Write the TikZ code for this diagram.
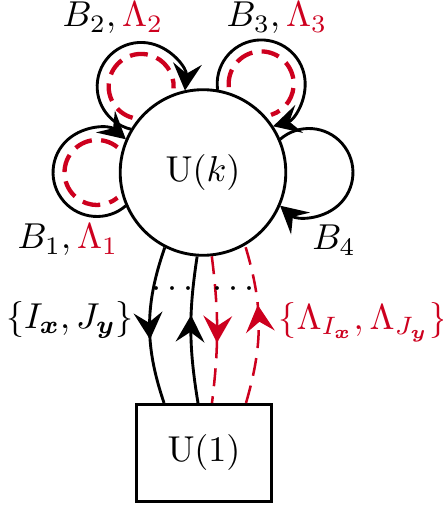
\documentclass[tikz,border=0pt]{standalone}
\usepackage{bm}
\usetikzlibrary{arrows.meta,decorations.markings,calc}
\definecolor{myred}{RGB}{205,0,30}
\begin{document}
\begin{tikzpicture}[x=0.27778pt,y=0.27778pt,
  gauge/.style={circle,draw,line width=0.8pt,minimum size=46pt,inner sep=0pt},
  flavor/.style={rectangle,draw,line width=0.8pt,minimum width=37.5pt,minimum height=27pt,inner sep=0pt},
  loopline/.style={line width=0.8pt,-{Stealth[length=7.5pt,width=8pt,inset=2.8pt]}},
  redloop/.style={draw=myred,line width=1.2pt,dash pattern=on 5pt off 2.6pt},
  blackleg/.style={line width=0.8pt},
  redleg/.style={color=myred,line width=0.7pt,dash pattern=on 5pt off 2.8pt},
  midarrow/.style={postaction={decorate},decoration={markings,mark=at position #1 with {\arrow{Stealth[length=7.5pt,width=8pt,inset=2.8pt]}}}},
  lab/.style={inner sep=0pt}
]
\useasboundingbox (0,0) rectangle (443,508);

\node[gauge] (U) at (203,335.5) {$\mathrm{U}(k)$};
\node[flavor] (F) at (204,55) {$\mathrm{U}(1)$};

% loop centres
\coordinate (c1) at ([shift={(180:29.44pt)}]U.center);
\coordinate (c2) at ([shift={(125.7:29.44pt)}]U.center);
\coordinate (c3) at ([shift={(56.7:29.44pt)}]U.center);
\coordinate (c4) at ([shift={(0:29.44pt)}]U.center);

% red dashed loops
\draw[redloop] (c1) ++(51:9.03pt) arc[start angle=51,end angle=309,radius=9.03pt];
\draw[redloop] (c2) ++(254.7:9.03pt) arc[start angle=254.7,end angle=-3.3,radius=9.03pt];
\draw[redloop] (c3) ++(185.7:9.03pt) arc[start angle=185.7,end angle=-72.3,radius=9.03pt];

% black loops
\draw[loopline] (c1) ++(311:12.22pt) arc[start angle=311,end angle=49,radius=12.22pt];
\draw[loopline] (c2) ++(256.7:12.22pt) arc[start angle=256.7,end angle=-5.3,radius=12.22pt];
\draw[loopline] (c3) ++(187.7:12.22pt) arc[start angle=187.7,end angle=-74.3,radius=12.22pt];
\draw[loopline] (c4) ++(131:12.22pt) arc[start angle=131,end angle=-131,radius=12.22pt];

% legs
\draw[blackleg,midarrow=0.59] (U.243.3) to[bend right=19] ([xshift=-11.1pt]F.north);
\draw[blackleg,midarrow=0.6] ([xshift=-1.67pt]F.north) to[bend left=9] (U.266.5);
\draw[redleg,midarrow=0.59] (U.276.2) to[bend left=7] ([xshift=2.22pt]F.north);
\draw[redleg,midarrow=0.62] ([xshift=11.67pt]F.north) to[bend right=16.6] (U.300);

% labels
\node[lab] (lB2) at (113,490) {$B_2,\textcolor{myred}{\Lambda_2}$};
\node[lab] (lB3) at (277,490) {$B_3,\textcolor{myred}{\Lambda_3}$};
\node[lab] (lB1) at (68,268) {$B_1,\textcolor{myred}{\Lambda_1}$};
\node[lab] (lB4) at (334,268) {$B_4$};
\node[lab] (lIJ) at (70,188) {$\{I_{\bm{x}},J_{\bm{y}}\}$};
\node[lab,text=myred] (lL) at (363,186) {$\{\Lambda_{I_{\bm{x}}},\Lambda_{J_{\bm{y}}}\}$};
\node[lab,anchor=base] (d1) at (172.5,210) {$\cdots$};
\node[lab,anchor=base] (d2) at (233.5,210) {$\cdots$};
\end{tikzpicture}
\end{document}
